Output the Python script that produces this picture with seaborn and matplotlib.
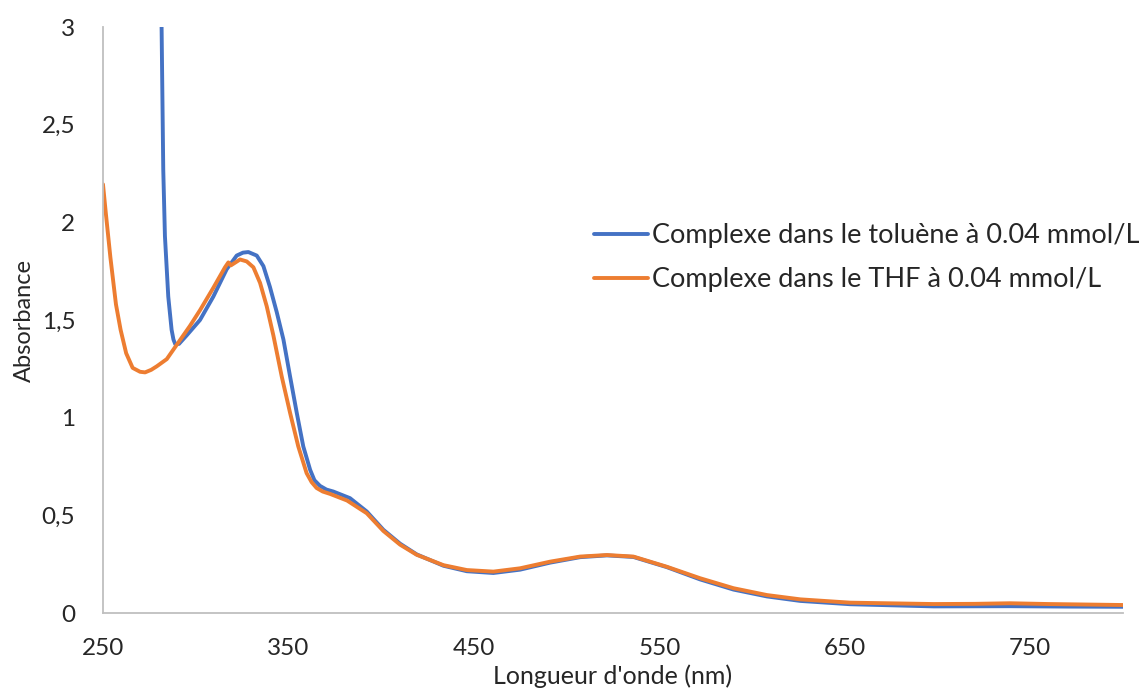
import numpy as np
import matplotlib
matplotlib.use("Agg")
import matplotlib.pyplot as plt
import matplotlib.ticker as mticker
import pandas as pd
import seaborn as sns

# toluene series
wl_tol = [281, 281.6, 282.5, 283.4, 285.2, 287, 288, 289, 291, 295, 302.3, 309.5, 316.7, 322.1,
          325.5, 328.4, 332.9, 336.5, 340, 343.7, 347.3, 350.9, 354.5, 358, 361.7, 364, 367,
          370.5, 374.2, 383.2, 392.2, 401.2, 410.2, 419.2, 433.6, 446.2, 460.5, 474.9, 491.1,
          507.3, 521.7, 536, 554, 572, 590, 608, 626, 653, 698, 739, 770, 800]
abs_tol = [3.3, 3.0, 2.27, 1.93, 1.62, 1.45, 1.40, 1.376, 1.378, 1.42, 1.50, 1.62, 1.76, 1.83,
           1.845, 1.848, 1.83, 1.776, 1.67, 1.54, 1.40, 1.21, 1.024, 0.853, 0.733, 0.68, 0.651,
           0.632, 0.622, 0.588, 0.52, 0.426, 0.355, 0.300, 0.242, 0.214, 0.205, 0.222, 0.258,
           0.286, 0.295, 0.287, 0.235, 0.172, 0.12, 0.085, 0.062, 0.045, 0.034, 0.035, 0.033,
           0.032]

# THF series
wl_thf = [250, 251.5, 254, 257, 259.5, 262.5, 266, 270, 272.7, 276, 279, 284.4, 288.8, 296.9,
          302.3, 309.5, 315.8, 317.6, 319, 323.9, 327.5, 331.1, 334.7, 338.3, 341.9, 346.4,
          350.9, 355.3, 359.8, 362.5, 365.2, 368.5, 372.4, 381.6, 392.2, 401.2, 410.2, 419.2,
          433.6, 446.2, 460.5, 474.9, 491.1, 507.3, 521.7, 536, 554, 572, 590, 608, 626, 653,
          698, 720, 739, 760, 800]
abs_thf = [2.195, 2.05, 1.82, 1.58, 1.45, 1.33, 1.255, 1.235, 1.232, 1.245, 1.263, 1.30, 1.36,
           1.47, 1.55, 1.665, 1.77, 1.795, 1.78, 1.81, 1.80, 1.77, 1.69, 1.57, 1.42, 1.21,
           1.024, 0.853, 0.716, 0.67, 0.64, 0.622, 0.61, 0.576, 0.511, 0.42, 0.35, 0.298, 0.245,
           0.22, 0.212, 0.229, 0.263, 0.289, 0.297, 0.289, 0.237, 0.178, 0.127, 0.092, 0.07,
           0.053, 0.046, 0.047, 0.05, 0.046, 0.041]

labels = ["Complexe dans le toluène à 0.04 mmol/L", "Complexe dans le THF à 0.04 mmol/L"]
x_ticks = [250, 350, 450, 550, 650, 750]
y_ticks = [0, 0.5, 1, 1.5, 2, 2.5, 3]

df = pd.concat([
    pd.DataFrame({"wl": wl_tol, "A": abs_tol, "serie": labels[0]}),
    pd.DataFrame({"wl": wl_thf, "A": abs_thf, "serie": labels[1]}),
])

sns.set_style("white")
plt.rcParams["font.family"] = ["Lato", "DejaVu Sans"]

fig = plt.figure(figsize=(11.43, 6.93), dpi=100)
ax = fig.add_axes([0.0901, 0.1154, 0.8924, 0.8456])

sns.lineplot(data=df, x="wl", y="A", hue="serie", sort=False,
             palette={labels[0]: "#4472C4", labels[1]: "#ED7D31"},
             linewidth=2.8, estimator=None, ax=ax, legend=False)

ax.set_xlim(250, 800)
ax.set_ylim(0, 3)
ax.set_xticks(x_ticks)
ax.set_yticks(y_ticks)
ax.yaxis.set_major_formatter(mticker.FuncFormatter(lambda v, p: f"{v:g}".replace(".", ",")))
ax.tick_params(axis="both", length=0, labelsize=17.5, colors="#262626")
ax.tick_params(axis="y", pad=20)
ax.tick_params(axis="x", pad=18)

for s in ["top", "right"]:
    ax.spines[s].set_visible(False)
for s in ["left", "bottom"]:
    ax.spines[s].set_color("#BFBFBF")
    ax.spines[s].set_linewidth(1.3)

ax.set_xlabel("Longueur d'onde (nm)", fontsize=18, color="#262626", labelpad=4)
ax.set_ylabel("Absorbance", fontsize=17, color="#262626", labelpad=5)

handles = [plt.Line2D([], [], color="#4472C4", lw=2.8),
           plt.Line2D([], [], color="#ED7D31", lw=2.8)]
ax.legend(handles, labels, loc="upper left", bbox_to_anchor=(0.481, 0.665),
          frameon=False, fontsize=19.5, handlelength=2.0, handletextpad=0.15,
          labelspacing=0.7, borderaxespad=0, borderpad=0)

fig.savefig("out.png", dpi=100)
